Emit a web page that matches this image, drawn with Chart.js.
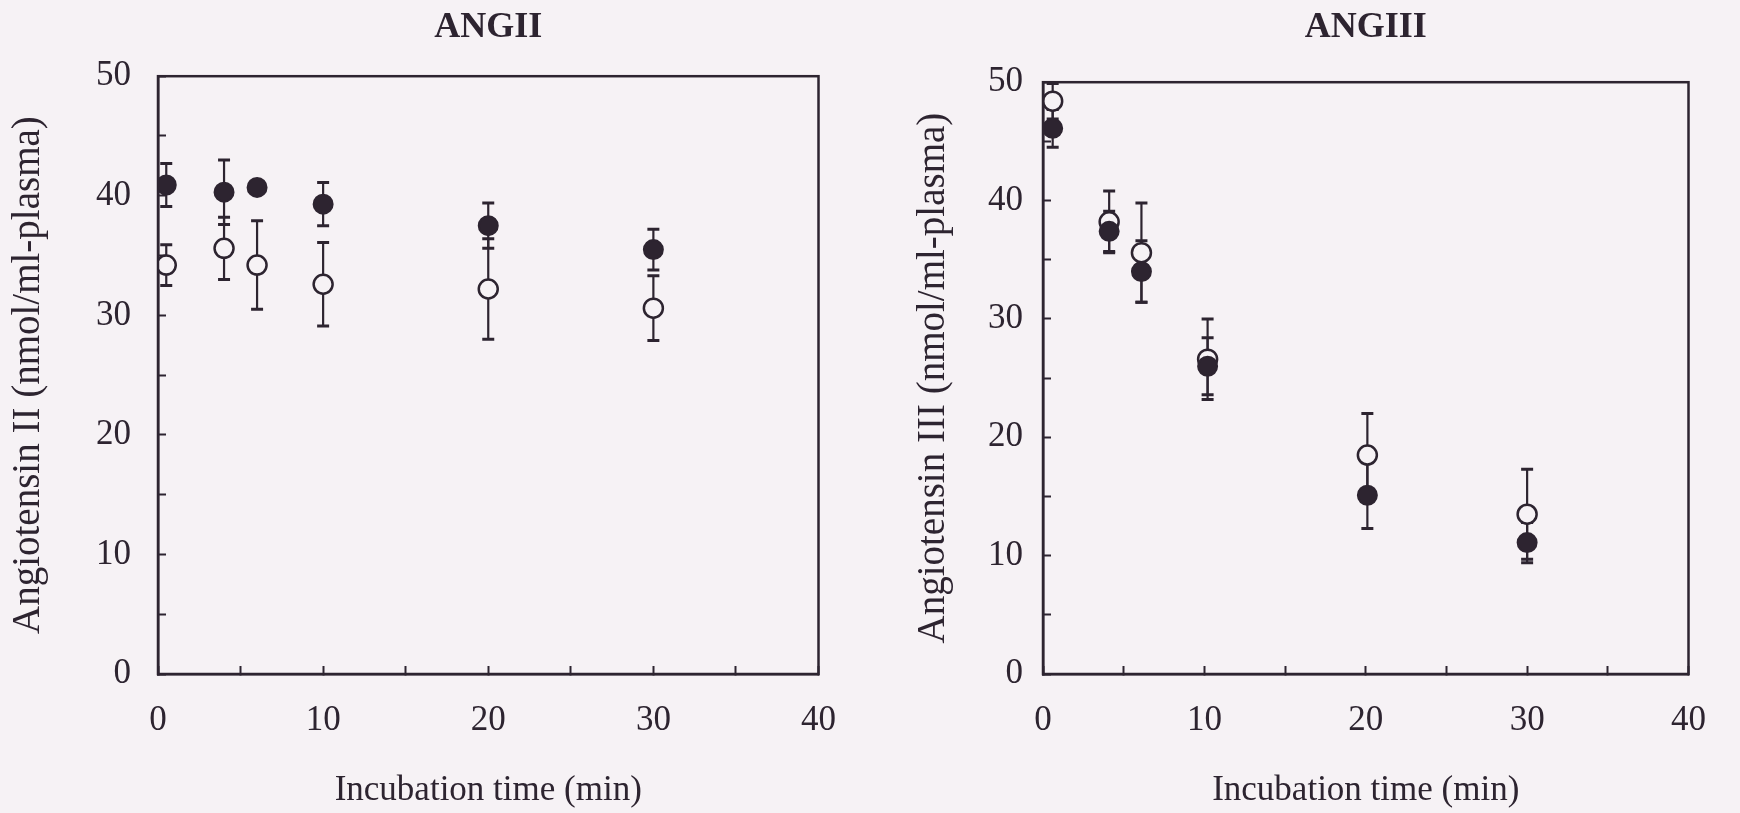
<!DOCTYPE html>
<html>
<head>
<meta charset="utf-8">
<script src="https://cdn.jsdelivr.net/npm/chart.js@4.4.1/dist/chart.umd.min.js"></script>
<style>
  html, body { margin: 0; padding: 0; background: #f6f2f5; }
  .panel { position: absolute; top: 0; width: 870px; height: 813px; }
  #left { left: 0; }
  #right { left: 870px; }
</style>
</head>
<body>
<div class="panel" id="left"><canvas id="angII" width="870" height="813"></canvas></div>
<div class="panel" id="right"><canvas id="angIII" width="870" height="813"></canvas></div>
<script>
// ANGII panel
const timeII = [0.5, 4, 6, 10, 20, 30];
const angIIFilled = [40.9, 40.3, 40.7, 39.3, 37.5, 35.5];
const angIIFilledErr = [1.8, 2.7, 0.4, 1.8, 1.9, 1.7];
const angIIOpen = [34.2, 35.6, 34.2, 32.6, 32.2, 30.6];
const angIIOpenErr = [1.7, 2.6, 3.7, 3.5, 4.2, 2.7];

// ANGIII panel
const timeIII = [0.6, 4.1, 6.1, 10.2, 20.1, 30];
const angIIIFilled = [46.1, 37.4, 34.0, 26.0, 15.1, 11.1];
const angIIIFilledErr = [1.6, 1.7, 2.6, 2.4, 2.8, 1.7];
const angIIIOpen = [48.4, 38.2, 35.6, 26.6, 18.5, 13.5];
const angIIIOpenErr = [1.5, 2.6, 4.2, 3.4, 3.5, 3.8];

const ink = '#2d2430';
const paper = '#f6f2f5';
const serif = "'Liberation Serif', 'Times New Roman', serif";

function points(xs, ys) {
  return xs.map((x, i) => ({ x: x, y: ys[i] }));
}

// vertical error bars with caps, drawn under the markers
const errorBars = {
  id: 'errorBars',
  beforeDatasetsDraw(chart) {
    const ctx = chart.ctx;
    const ys = chart.scales.y;
    const area = chart.chartArea;
    ctx.save();
    ctx.beginPath();
    ctx.rect(area.left, area.top, area.right - area.left, area.bottom - area.top);
    ctx.clip();
    ctx.strokeStyle = ink;
    chart.data.datasets.forEach((ds, i) => {
      const meta = chart.getDatasetMeta(i);
      meta.data.forEach((pt, j) => {
        const v = ds.data[j].y;
        const e = ds.errors[j];
        const top = ys.getPixelForValue(v + e);
        const bot = ys.getPixelForValue(v - e);
        ctx.lineWidth = 2.2;
        ctx.beginPath();
        ctx.moveTo(pt.x, top);
        ctx.lineTo(pt.x, bot);
        ctx.stroke();
        ctx.lineWidth = 3;
        ctx.beginPath();
        ctx.moveTo(pt.x - 6, top);
        ctx.lineTo(pt.x + 6, top);
        ctx.moveTo(pt.x - 6, bot);
        ctx.lineTo(pt.x + 6, bot);
        ctx.stroke();
      });
    });
    ctx.restore();
  }
};

// closed box around the plot area
const frame = {
  id: 'frame',
  afterDraw(chart) {
    const a = chart.chartArea;
    const ctx = chart.ctx;
    ctx.save();
    ctx.strokeStyle = ink;
    ctx.lineWidth = 2.5;
    ctx.strokeRect(a.left, a.top, a.right - a.left, a.bottom - a.top);
    ctx.restore();
  }
};

function makeChart(id, cfg) {
  return new Chart(document.getElementById(id), {
    type: 'scatter',
    data: {
      datasets: [
        {
          label: 'filled',
          data: points(cfg.time, cfg.filled),
          errors: cfg.filledErr,
          pointRadius: 9.5,
          pointBorderWidth: 2,
          pointBackgroundColor: ink,
          pointBorderColor: ink,
          showLine: false
        },
        {
          label: 'open',
          data: points(cfg.time, cfg.open),
          errors: cfg.openErr,
          pointRadius: 9.5,
          pointBorderWidth: 2.5,
          pointBackgroundColor: paper,
          pointBorderColor: ink,
          showLine: false
        }
      ]
    },
    options: {
      responsive: false,
      animation: false,
      layout: { padding: { left: 0, right: cfg.padRight, top: 0, bottom: 0 } },
      plugins: {
        legend: { display: false },
        tooltip: { enabled: false },
        title: {
          display: true,
          text: cfg.title,
          fullSize: false,
          color: ink,
          font: { family: serif, size: 36, weight: 'bold' },
          padding: { top: 6, bottom: cfg.titleGap }
        }
      },
      scales: {
        x: {
          type: 'linear',
          min: 0,
          max: 40,
          afterFit: s => { s.height = 139; },
          border: { color: ink, width: 2.5 },
          grid: { drawOnChartArea: false, tickLength: -8, tickWidth: 2, tickColor: ink },
          ticks: {
            stepSize: 5,
            autoSkip: false,
            maxRotation: 0,
            padding: 34,
            color: ink,
            font: { family: serif, size: 35 },
            callback: v => (v % 10 === 0 ? v : '')
          },
          title: {
            display: true,
            text: 'Incubation time (min)',
            color: ink,
            font: { family: serif, size: 35 },
            padding: { top: 0, bottom: 1 }
          }
        },
        y: {
          type: 'linear',
          min: 0,
          max: 50,
          afterFit: s => { s.width = cfg.yWidth; },
          border: { color: ink, width: 2.5 },
          grid: { drawOnChartArea: false, tickLength: -8, tickWidth: 2, tickColor: ink },
          ticks: {
            stepSize: 5,
            autoSkip: false,
            padding: cfg.yTickPad,
            color: ink,
            font: { family: serif, size: 35 },
            callback: v => (v % 10 === 0 ? v : '')
          },
          title: {
            display: true,
            text: cfg.yTitle,
            color: ink,
            font: { family: serif, size: 39 },
            padding: { top: cfg.yTitlePad, bottom: 0 }
          }
        }
      }
    },
    plugins: [errorBars, frame]
  });
}

makeChart('angII', {
  title: 'ANGII',
  time: timeII,
  filled: angIIFilled,
  filledErr: angIIFilledErr,
  open: angIIOpen,
  openErr: angIIOpenErr,
  yTitle: 'Angiotensin II (nmol/ml-plasma)',
  yWidth: 158,
  yTickPad: 35,
  yTitlePad: 5,
  padRight: 37,
  titleGap: 27
});

makeChart('angIII', {
  title: 'ANGIII',
  time: timeIII,
  filled: angIIIFilled,
  filledErr: angIIIFilledErr,
  open: angIIIOpen,
  openErr: angIIIOpenErr,
  yTitle: 'Angiotensin III (nmol/ml-plasma)',
  yWidth: 173,
  yTickPad: 28,
  yTitlePad: 40,
  padRight: 18,
  titleGap: 33
});
</script>
</body>
</html>
